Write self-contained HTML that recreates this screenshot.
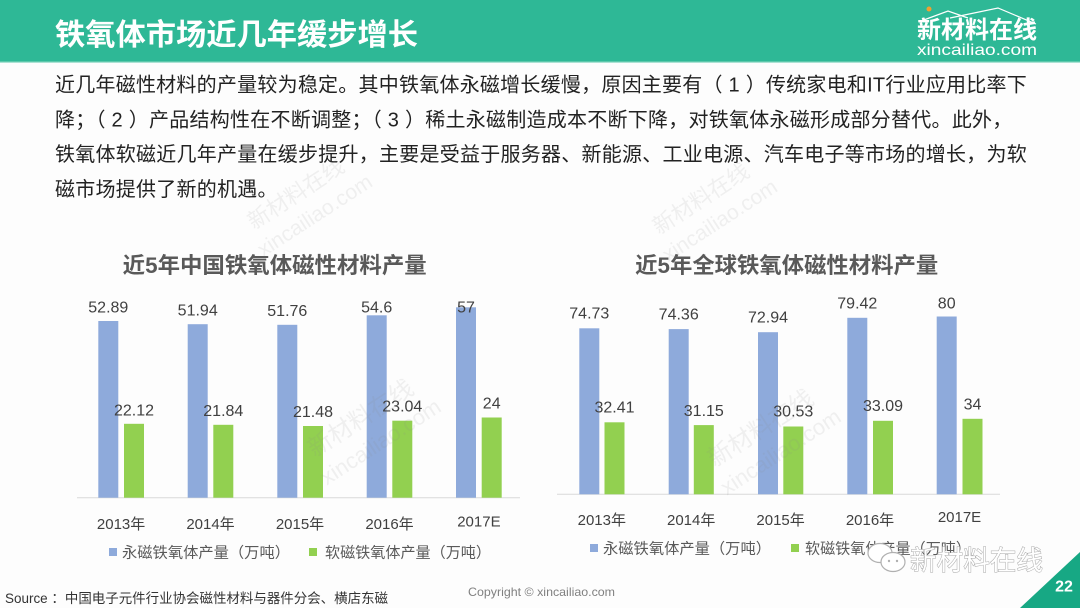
<!DOCTYPE html>
<html><head><meta charset="utf-8"><style>
html,body{margin:0;padding:0;}
body{width:1080px;height:608px;overflow:hidden;background:#fdfdfd;position:relative;}
svg{position:absolute;left:0;top:0;}
</style></head><body>
<svg width="1080" height="608" viewBox="0 0 1080 608" xmlns="http://www.w3.org/2000/svg" font-family="Liberation Sans, Noto Sans CJK SC, sans-serif">
<rect x="0" y="0" width="1080" height="608" fill="#fdfdfd"/>
<!-- header -->
<rect x="0" y="0" width="1080" height="62" fill="#2eb896"/>
<rect x="0" y="61" width="1080" height="1.5" fill="#5cc8ab"/>
<text x="55" y="45" font-size="30" font-weight="700" fill="#ffffff" textLength="363" lengthAdjust="spacingAndGlyphs">铁氧体市场近几年缓步增长</text>
<!-- logo -->
<polyline points="921,21 948,11 968,18" fill="none" stroke="#ffffff" stroke-width="1.2"/>
<polyline points="950,18 998,8 1036,24" fill="none" stroke="#ffffff" stroke-width="1.2"/>
<circle cx="929" cy="9" r="2.5" fill="#f0a030"/>
<text x="917" y="38" font-size="24" font-weight="700" fill="#ffffff" textLength="120" lengthAdjust="spacingAndGlyphs">新材料在线</text>
<text x="917" y="55" font-size="16" fill="#ffffff" textLength="120" lengthAdjust="spacingAndGlyphs">xincailiao.com</text>

<!-- body text -->
<g font-size="20" fill="#222222" style="white-space:pre" letter-spacing="0.25">
<text x="55" y="91.6" textLength="972" lengthAdjust="spacing">近几年磁性材料的产量较为稳定。其中铁氧体永磁增长缓慢，原因主要有（ 1 ）传统家电和IT行业应用比率下</text>
<text x="55" y="126.4">降；（ 2 ）产品结构性在不断调整；（ 3 ）稀土永磁制造成本不断下降，对铁氧体永磁形成部分替代。此外，</text>
<text x="55" y="161.1" textLength="972" lengthAdjust="spacing">铁氧体软磁近几年产量在缓步提升，主要是受益于服务器、新能源、工业电源、汽车电子等市场的增长，为软</text>
<text x="55" y="195.8">磁市场提供了新的机遇。</text>
</g>

<!-- chart titles -->
<text x="274.7" y="273" font-size="22" font-weight="700" fill="#595959" text-anchor="middle" textLength="304" lengthAdjust="spacingAndGlyphs">近5年中国铁氧体磁性材料产量</text>
<text x="786.7" y="273" font-size="22" font-weight="700" fill="#595959" text-anchor="middle" textLength="303" lengthAdjust="spacingAndGlyphs">近5年全球铁氧体磁性材料产量</text>

<!-- left chart -->
<line x1="77" y1="497.7" x2="520" y2="497.7" stroke="#d9d9d9" stroke-width="1"/>
<g fill="#8eaadb">
<rect x="98.3" y="321" width="20" height="176.7"/>
<rect x="187.7" y="324.2" width="20" height="173.5"/>
<rect x="277.3" y="324.8" width="20" height="172.9"/>
<rect x="366.7" y="315.3" width="20" height="182.4"/>
<rect x="456" y="307.3" width="20" height="190.4"/>
</g>
<g fill="#92d050">
<rect x="124" y="423.8" width="20" height="73.9"/>
<rect x="213.3" y="424.8" width="20" height="72.9"/>
<rect x="303" y="426" width="20" height="71.7"/>
<rect x="392.3" y="420.7" width="20" height="77"/>
<rect x="481.7" y="417.5" width="20" height="80.2"/>
</g>
<g font-size="16" fill="#404040" text-anchor="middle">
<text x="108.3" y="312.7">52.89</text>
<text x="197.7" y="315.3">51.94</text>
<text x="287.3" y="316">51.76</text>
<text x="376.7" y="312.7">54.6</text>
<text x="466" y="312.7">57</text>
<text x="134" y="415.3">22.12</text>
<text x="223.3" y="416">21.84</text>
<text x="313" y="417">21.48</text>
<text x="402.3" y="411.7">23.04</text>
<text x="491.7" y="408.7">24</text>
</g>
<g font-size="15" fill="#404040" text-anchor="middle">
<text x="121.1" y="528.8">2013年</text>
<text x="210.5" y="528.8">2014年</text>
<text x="300" y="528.8">2015年</text>
<text x="389.5" y="528.8">2016年</text>
<text x="478.9" y="526.5">2017E</text>
</g>
<rect x="109" y="548" width="8" height="8" fill="#8eaadb"/>
<rect x="309" y="548" width="8" height="8" fill="#92d050"/>
<g font-size="15" fill="#595959">
<text x="122" y="557.5" textLength="168" lengthAdjust="spacingAndGlyphs">永磁铁氧体产量（万吨）</text>
<text x="325" y="557.5" textLength="166" lengthAdjust="spacingAndGlyphs">软磁铁氧体产量（万吨）</text>
</g>

<!-- right chart -->
<line x1="557" y1="494.3" x2="1000" y2="494.3" stroke="#d9d9d9" stroke-width="1"/>
<g fill="#8eaadb">
<rect x="579.3" y="328.3" width="20" height="166"/>
<rect x="668.7" y="329.1" width="20" height="165.2"/>
<rect x="758" y="332.2" width="20" height="162.1"/>
<rect x="847.3" y="317.8" width="20" height="176.5"/>
<rect x="936.7" y="316.5" width="20" height="177.8"/>
</g>
<g fill="#92d050">
<rect x="604.5" y="422.3" width="20" height="72"/>
<rect x="693.8" y="425.1" width="20" height="69.2"/>
<rect x="783.3" y="426.5" width="20" height="67.8"/>
<rect x="873" y="420.8" width="20" height="73.5"/>
<rect x="962.5" y="418.8" width="20" height="75.5"/>
</g>
<g font-size="16" fill="#404040" text-anchor="middle">
<text x="589.3" y="318.3">74.73</text>
<text x="678.7" y="319.3">74.36</text>
<text x="768" y="322.7">72.94</text>
<text x="857.3" y="308.7">79.42</text>
<text x="946.7" y="308.7">80</text>
<text x="614.5" y="412.7">32.41</text>
<text x="703.8" y="416">31.15</text>
<text x="793.3" y="416.7">30.53</text>
<text x="883" y="411">33.09</text>
<text x="972.5" y="409.3">34</text>
</g>
<g font-size="15" fill="#404040" text-anchor="middle">
<text x="601.8" y="524.8">2013年</text>
<text x="691.2" y="524.8">2014年</text>
<text x="780.6" y="524.8">2015年</text>
<text x="870" y="524.8">2016年</text>
<text x="959.5" y="522.2">2017E</text>
</g>
<rect x="590" y="544" width="8" height="8" fill="#8eaadb"/>
<rect x="791" y="544" width="8" height="8" fill="#92d050"/>
<g font-size="15" fill="#595959">
<text x="603" y="553.5" textLength="168" lengthAdjust="spacingAndGlyphs">永磁铁氧体产量（万吨）</text>
<text x="805" y="553.5" textLength="166" lengthAdjust="spacingAndGlyphs">软磁铁氧体产量（万吨）</text>
</g>

<!-- diagonal watermarks -->
<g fill="rgba(140,140,140,0.12)" text-anchor="middle">
<g transform="translate(300,200) rotate(-33)"><text font-size="22" y="0">新材料在线</text><text font-size="21" x="4" y="28">xincailiao.com</text></g>
<g transform="translate(705,205) rotate(-33)"><text font-size="22" y="0">新材料在线</text><text font-size="21" x="4" y="28">xincailiao.com</text></g>
<g transform="translate(365,425) rotate(-33)"><text font-size="24" y="0">新材料在线</text><text font-size="22" x="4" y="30">xincailiao.com</text></g>
<g transform="translate(765,435) rotate(-33)"><text font-size="24" y="0">新材料在线</text><text font-size="22" x="4" y="30">xincailiao.com</text></g>
</g>

<!-- wechat watermark -->
<g fill="none" stroke="#b0b0b0" stroke-width="1.2">
<ellipse cx="880" cy="553" rx="12" ry="9.5" fill="#ffffff"/>
<ellipse cx="893" cy="562" rx="12" ry="9.5" fill="#ffffff"/>
</g>
<circle cx="889" cy="561" r="1.2" fill="#b0b0b0"/>
<circle cx="897" cy="561" r="1.2" fill="#b0b0b0"/>
<text x="910" y="570" font-size="27" fill="#ffffff" stroke="#a8a8a8" stroke-width="1" paint-order="stroke" textLength="133" lengthAdjust="spacingAndGlyphs">新材料在线</text>

<!-- footer -->
<text x="5" y="603" font-size="13.5" fill="#333333" textLength="383" lengthAdjust="spacingAndGlyphs" style="white-space:pre">Source ：中国电子元件行业协会磁性材料与器件分会、横店东磁</text>
<text x="468" y="596" font-size="12" fill="#808080" textLength="147" lengthAdjust="spacingAndGlyphs">Copyright © xincailiao.com</text>
<polygon points="1020,608 1080,552 1080,608" fill="#17a884"/>
<text x="1064" y="591.5" font-size="16" font-weight="700" fill="#ffffff" text-anchor="middle">22</text>
</svg>
</body></html>
